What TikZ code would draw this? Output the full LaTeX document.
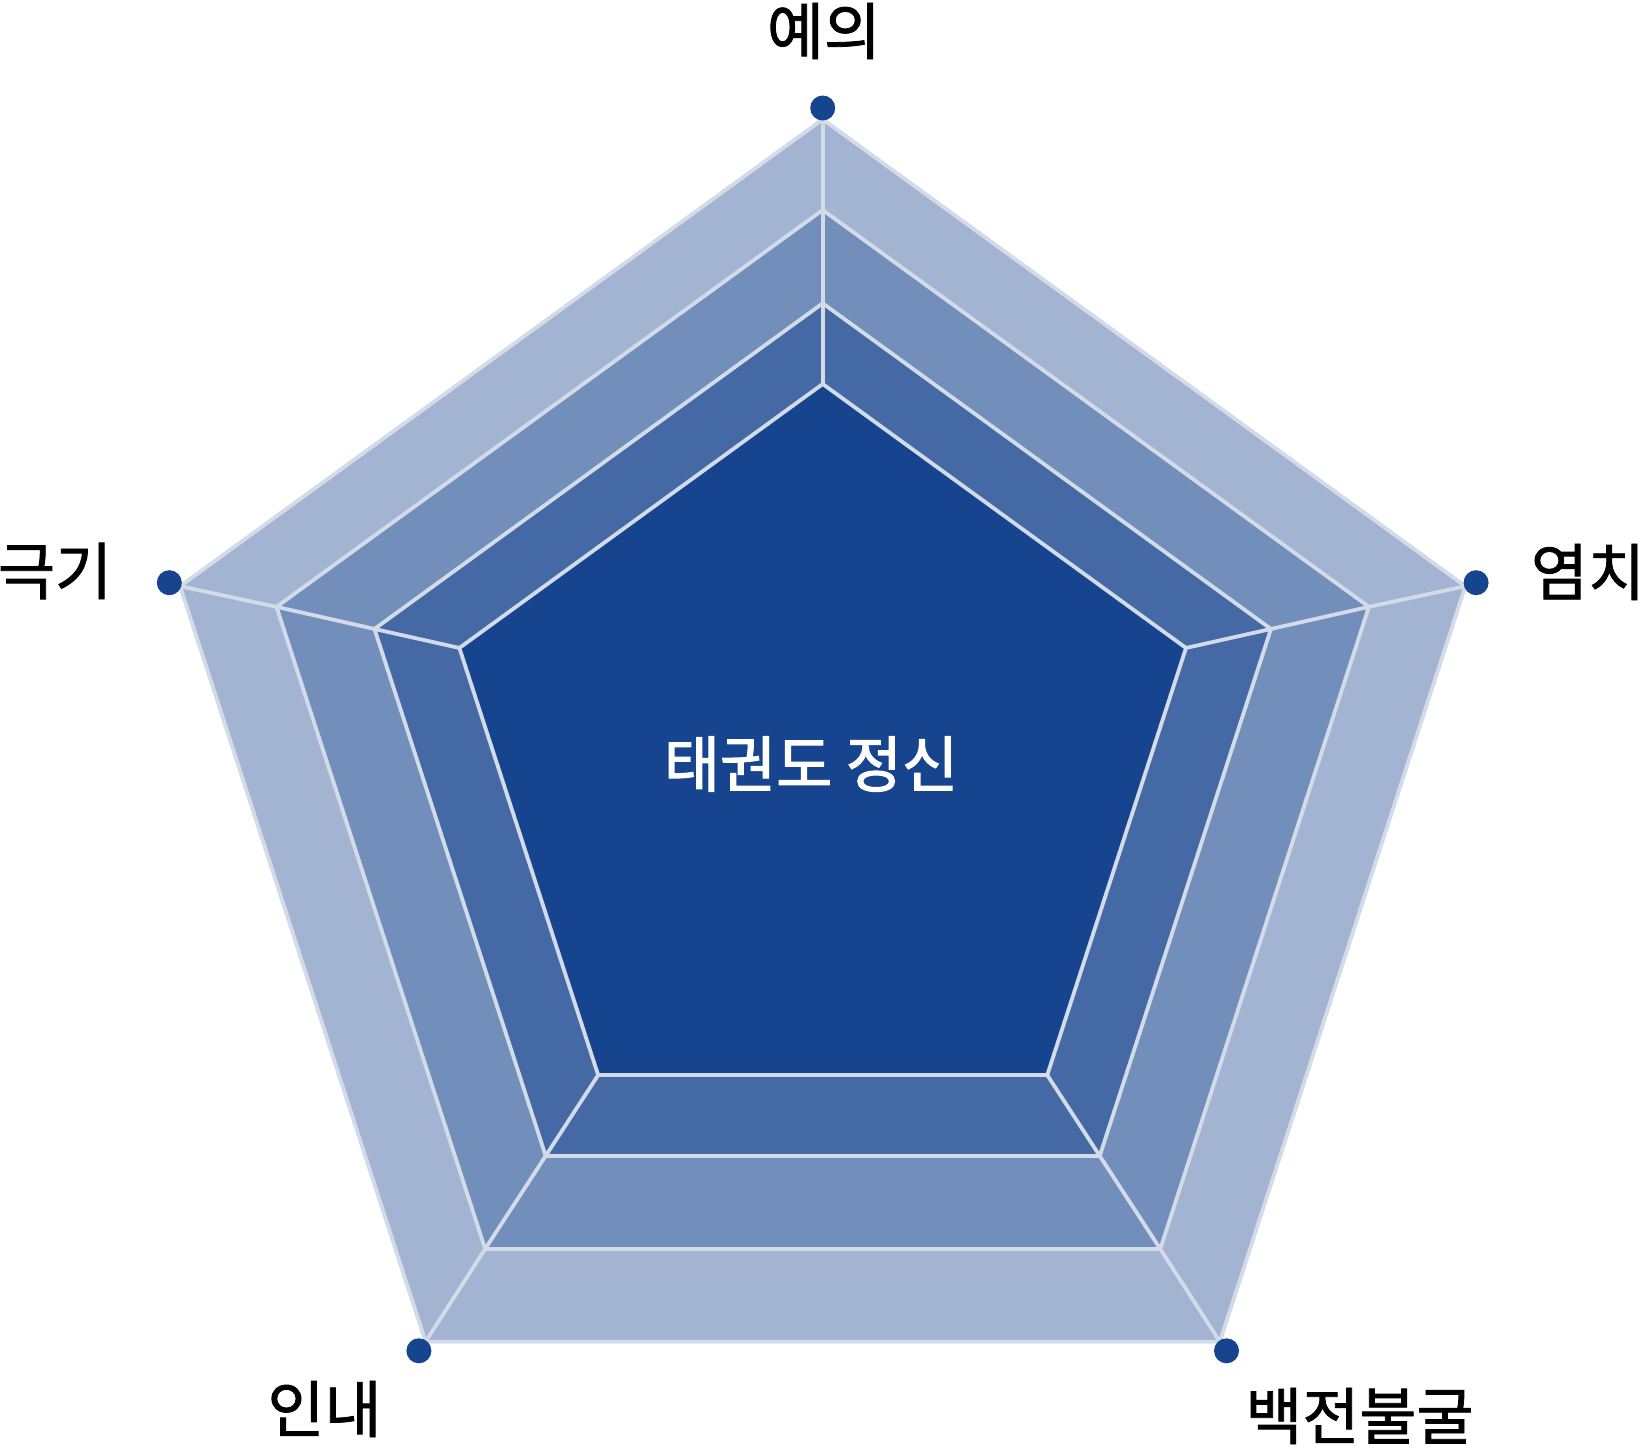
\documentclass[tikz,border=0pt]{standalone}
\usepackage{fontspec}
\setmainfont{Noto Sans CJK KR}
\newfontfamily\lblfont[FakeBold=1.3]{Noto Sans CJK KR}
\newfontfamily\spiritfont[FakeBold=2]{Noto Sans CJK KR}
\usepackage{xcolor}
\usepackage{tikz}

\definecolor{bandA}{HTML}{A3B4D2}
\definecolor{bandB}{HTML}{728EBB}
\definecolor{bandC}{HTML}{4469A5}
\definecolor{bandD}{HTML}{17448E}
\definecolor{edgeline}{HTML}{D3DBE9}

\begin{document}
\begin{tikzpicture}[x=1pt,y=-1pt,
							band/.style={draw=edgeline,line width=3.8pt,line join=round},
							spoke/.style={draw=edgeline,line width=3.8pt},
							dot/.style={circle,fill=bandD,inner sep=0pt,minimum size=25pt},
							lbl/.style={inner sep=0pt,font=\lblfont\fontsize{62}{64}\selectfont}]
			\useasboundingbox (0,0) rectangle (1646,1448);
			% pentagon corners, one layer each
			\foreach \lname/\cy/\rad in {la/795/675.7, lb/784.3/574.3, lc/774.6/471.3, ld/766/382}
			{
				\begin{scope}[shift={(822.7,\cy)}]
					\coordinate (\lname-1) at (-90:\rad);
					\coordinate (\lname-2) at (-18:\rad);
					\coordinate (\lname-3) at (54:\rad);
					\coordinate (\lname-4) at (126:\rad);
					\coordinate (\lname-5) at (198:\rad);
				\end{scope}
			}
			\filldraw[band,fill=bandA] (la-1) -- (la-2) -- (la-3) -- (la-4) -- (la-5) -- cycle;
			\filldraw[band,fill=bandB] (lb-1) -- (lb-2) -- (lb-3) -- (lb-4) -- (lb-5) -- cycle;
			\filldraw[band,fill=bandC] (lc-1) -- (lc-2) -- (lc-3) -- (lc-4) -- (lc-5) -- cycle;
			\filldraw[band,fill=bandD] (ld-1) -- (ld-2) -- (ld-3) -- (ld-4) -- (ld-5) -- cycle;
			\foreach \k in {1,...,5}
				\draw[spoke] (ld-\k) -- (lc-\k) -- (lb-\k) -- (la-\k);
			% dots on the axes
			\begin{scope}[shift={(822.7,795)}]
				\node[dot] (dot-ye) at (-90:687) {};
				\node[dot] (dot-yeom) at (-18:687) {};
				\node[dot] (dot-baek) at (54:687) {};
				\node[dot] (dot-in) at (126:687) {};
				\node[dot] (dot-geuk) at (198:687) {};
			\end{scope}
			\node[lbl] (ye) at (824,31) {예의};
			\node[lbl] (yeom) at (1588,572) {염치};
			\node[lbl] (baek) at (1359.5,1416) {백전불굴};
			\node[lbl] (in) at (324.5,1409) {인내};
			\node[lbl] (geuk) at (55,571) {극기};
			\node[lbl,text=white,font=\spiritfont\fontsize{61}{63}\selectfont] (spirit) at (811,764) {태권도 정신};
		\end{tikzpicture}
\end{document}
